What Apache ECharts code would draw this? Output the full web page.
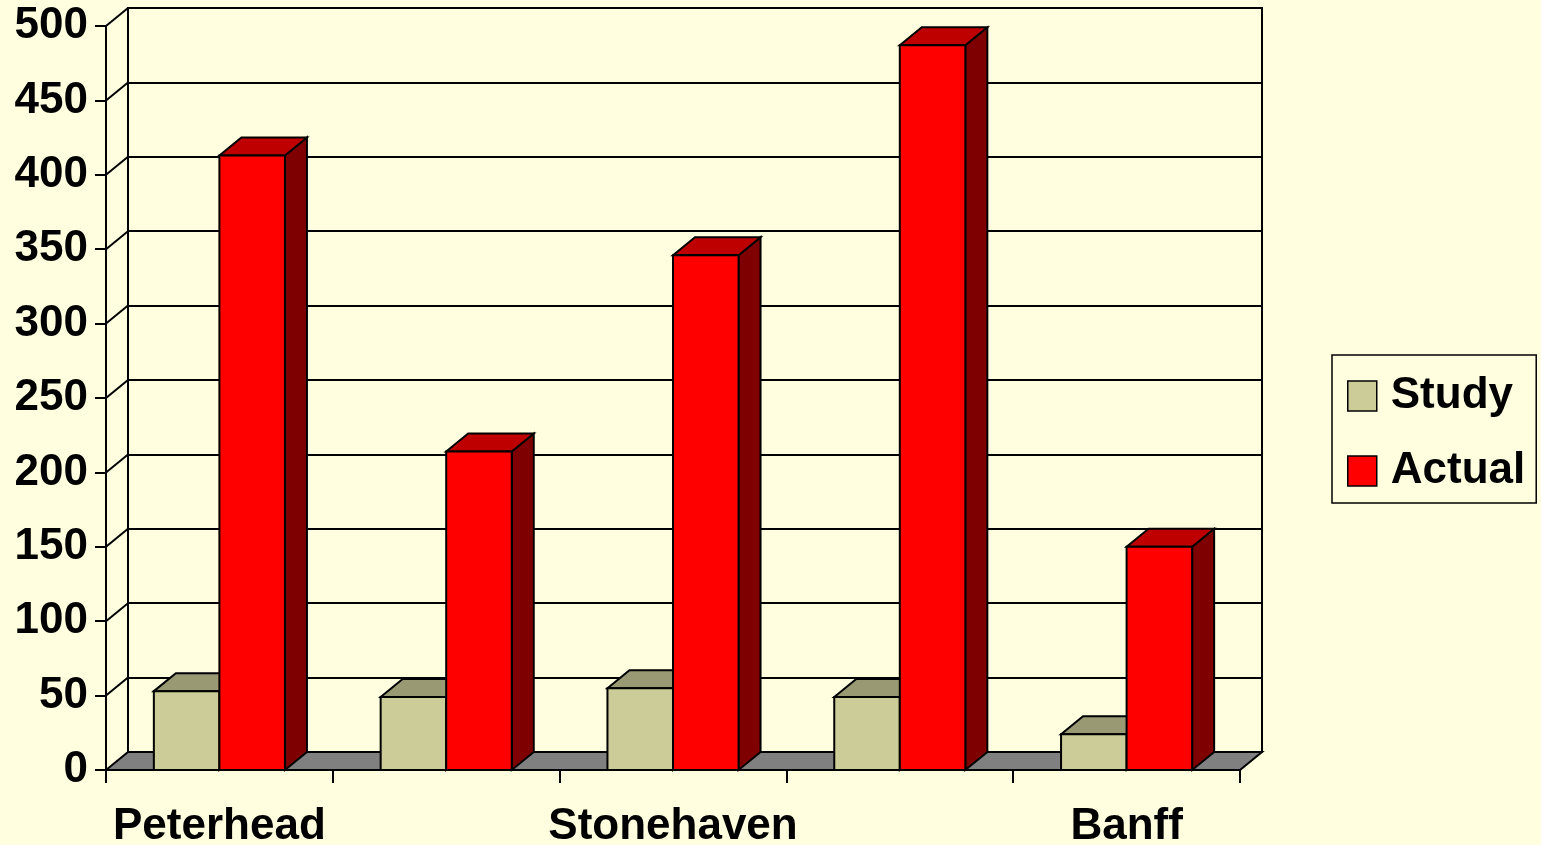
<!DOCTYPE html>
<html>
<head>
<meta charset="utf-8">
<title>Study vs Actual</title>
<script src="https://cdn.jsdelivr.net/npm/echarts@6/dist/echarts.min.js"></script>
<style>
  html, body { margin: 0; padding: 0; background: #FFFFE0; }
  #chart { width: 1541px; height: 845px; }
</style>
</head>
<body>
<div id="chart"></div>
<script>
// Towns (only every other one gets a label on the axis)
const categories = ['Peterhead', '', 'Stonehaven', '', 'Banff'];
const studyValues = [53, 49, 55, 49, 24];
const actualValues = [413, 214, 346, 487, 150];
const yMin = 0;
const yMax = 500;
const yStep = 50;

// Oblique depth of the pseudo-3D box, in pixels
const DX = 22;
const DY = 18;
const BAR_RATIO = 0.289;
const FONT = 'Liberation Sans, Arial, sans-serif';

const studyColors = { front: '#CCCC99', top: '#999973', side: '#7F7F5A' };
const actualColors = { front: '#FF0000', top: '#BF0000', side: '#7F0000' };

const chart = echarts.init(document.getElementById('chart'), null, { renderer: 'canvas' });

function barRenderer(slot, colors) {
  return function (params, api) {
    const idx = api.value(0);
    const val = api.value(1);
    const base = api.coord([idx, 0]);
    const top = api.coord([idx, val]);
    const band = api.size([1, 0])[0];
    const w = band * BAR_RATIO;
    const x0 = base[0] + slot * w;
    const x1 = x0 + w;
    const yb = base[1];
    const yt = top[1];
    const edge = { stroke: '#000', lineWidth: 2, lineJoin: 'miter' };
    return {
      type: 'group',
      children: [
        { type: 'polygon', shape: { points: [[x1, yt], [x1 + DX, yt - DY], [x1 + DX, yb - DY], [x1, yb]] },
          style: Object.assign({ fill: colors.side }, edge) },
        { type: 'polygon', shape: { points: [[x0, yt], [x0 + DX, yt - DY], [x1 + DX, yt - DY], [x1, yt]] },
          style: Object.assign({ fill: colors.top }, edge) },
        { type: 'rect', shape: { x: x0, y: yt, width: w, height: yb - yt },
          style: Object.assign({ fill: colors.front }, edge) }
      ]
    };
  };
}

// Floor plate and the short slanted gridlines on the left wall
function frameRenderer(params, api) {
  const cs = params.coordSys;
  const left = cs.x;
  const right = cs.x + cs.width;
  const y0 = api.coord([0, yMin])[1];
  const children = [
    { type: 'polygon',
      shape: { points: [[left, y0], [left + DX, y0 - DY], [right + DX, y0 - DY], [right, y0]] },
      style: { fill: '#808080', stroke: '#000', lineWidth: 2 } }
  ];
  for (let v = yMin + yStep; v <= yMax; v += yStep) {
    const y = api.coord([0, v])[1];
    children.push({ type: 'line', shape: { x1: left, y1: y, x2: left + DX, y2: y - DY },
      style: { stroke: '#000', lineWidth: 2 } });
  }
  return { type: 'group', children: children };
}

const option = {
  backgroundColor: '#FFFFE0',
  animation: false,
  textStyle: { fontFamily: FONT },
  grid: [
    { left: 106, top: 26, width: 1134, height: 744, show: false,
      containLabel: false, outerBoundsMode: 'none' },
    { left: 106 + DX, top: 26 - DY, width: 1134, height: 744, show: true,
      containLabel: false, outerBoundsMode: 'none',
      borderColor: '#000', borderWidth: 2, backgroundColor: 'transparent', z: 0 }
  ],
  legend: {
    orient: 'vertical',
    left: 1332,
    top: 355,
    selectedMode: false,
    itemWidth: 29,
    itemHeight: 30,
    itemGap: 31,
    padding: [19, 11, 10, 15],
    borderColor: '#000',
    borderWidth: 1.5,
    icon: 'rect',
    textStyle: { fontSize: 44, fontWeight: 'bold', color: '#000', fontFamily: FONT,
      lineHeight: 40, padding: [3, 0, 0, 9] },
    data: [
      { name: 'Study', itemStyle: { color: studyColors.front, borderColor: '#000', borderWidth: 1.5 } },
      { name: 'Actual', itemStyle: { color: actualColors.front, borderColor: '#000', borderWidth: 1.5 } }
    ]
  },
  xAxis: [
    { type: 'category', gridIndex: 0, data: categories, boundaryGap: true,
      axisLine: { show: true, lineStyle: { color: '#000', width: 2 } },
      axisTick: { show: true, length: 13, interval: 0, lineStyle: { color: '#000', width: 2 } },
      axisLabel: { interval: 0, margin: 35, fontSize: 44, fontWeight: 'bold', color: '#000', fontFamily: FONT },
      splitLine: { show: false } },
    { type: 'category', gridIndex: 1, data: categories, show: false }
  ],
  yAxis: [
    { type: 'value', gridIndex: 0, min: yMin, max: yMax, interval: yStep,
      axisLine: { show: true, lineStyle: { color: '#000', width: 2 } },
      axisTick: { show: true, length: 11, lineStyle: { color: '#000', width: 2 } },
      axisLabel: { margin: 18, fontSize: 44, fontWeight: 'bold', color: '#000', fontFamily: FONT },
      splitLine: { show: false } },
    { type: 'value', gridIndex: 1, min: yMin, max: yMax, interval: yStep,
      axisLine: { show: false }, axisTick: { show: false }, axisLabel: { show: false },
      splitLine: { show: true, lineStyle: { color: '#000', width: 2 } } }
  ],
  series: [
    { type: 'custom', name: 'frame', xAxisIndex: 0, yAxisIndex: 0, z: 1, silent: true,
      data: [[0, 0]], renderItem: frameRenderer },
    { type: 'custom', name: 'Study', xAxisIndex: 0, yAxisIndex: 0, z: 3,
      itemStyle: { color: studyColors.front },
      encode: { x: 0, y: 1 },
      data: categories.map(function (c, i) { return [i, studyValues[i]]; }),
      renderItem: barRenderer(-1, studyColors) },
    { type: 'custom', name: 'Actual', xAxisIndex: 0, yAxisIndex: 0, z: 4,
      itemStyle: { color: actualColors.front },
      encode: { x: 0, y: 1 },
      data: categories.map(function (c, i) { return [i, actualValues[i]]; }),
      renderItem: barRenderer(0, actualColors) }
  ]
};

chart.setOption(option);
</script>
</body>
</html>
